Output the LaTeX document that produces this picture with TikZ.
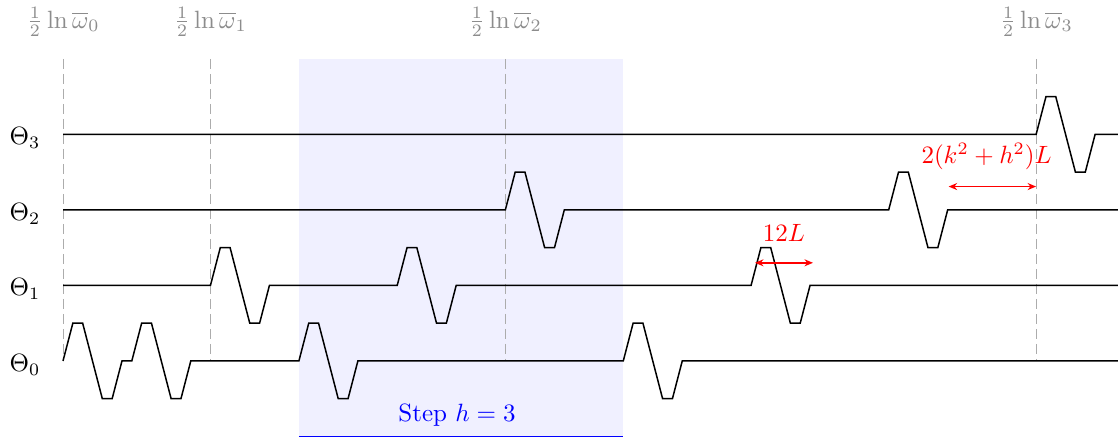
\documentclass[tikz,border=0pt]{standalone}
\usetikzlibrary{arrows.meta}
\begin{document}
\begin{tikzpicture}[x=3.932pt,y=30.2pt,
  wave/.style={black,line width=0.6pt,line join=miter},
  guide/.style={gray!65,line width=0.45pt,dash pattern=on 4pt off 2pt},
  toplabel/.style={text=gray!90,inner sep=1pt},
  thetalabel/.style={inner sep=1pt},
  measure/.style={red,line width=0.75pt,{Stealth[length=3.4pt,width=2.8pt]}-{Stealth[length=3.4pt,width=2.8pt]}},
  redlabel/.style={text=red,inner sep=1pt},
  steplabel/.style={text=blue,inner sep=1pt}]
\useasboundingbox (-6.41,-1.033) rectangle (107.33,4.781);
% step window
\fill[blue!6] (24,-1) rectangle (57,4);
\draw[blue,line width=0.6pt] (24,-1) coordinate (sL) -- (57,-1) coordinate (sR);
\node[steplabel] (step) at (40.08,-0.715) {Step $h=3$};
% guide lines
\foreach \xx/\ii in {0.03/0,15/1,45/2,99.03/3}{
  \coordinate (gt\ii) at (\xx,4);
  \coordinate (gb\ii) at (\xx,0);
  \draw[guide] (gt\ii) -- (gb\ii);
  \node[toplabel] (om\ii) at (\xx,4.49) {$\frac12\ln\overline{\omega}_\ii$};
}
% Theta labels
\foreach \ii in {0,1,2,3}{
  \node[thetalabel] (th\ii) at (-3.87,\ii-0.05) {$\Theta_\ii$};
}
% Theta_0
\draw[wave] (0,0) -- ++(1,.5) -- ++(1,0) -- ++(2,-1) -- ++(1,0) -- ++(1,.5)
  -- (7,0) -- ++(1,.5) -- ++(1,0) -- ++(2,-1) -- ++(1,0) -- ++(1,.5)
  -- (24,0) -- ++(1,.5) -- ++(1,0) -- ++(2,-1) -- ++(1,0) -- ++(1,.5)
  -- (57,0) -- ++(1,.5) -- ++(1,0) -- ++(2,-1) -- ++(1,0) -- ++(1,.5)
  -- (107.33,0);
% Theta_1
\draw[wave] (0,1)
  -- (15,1) -- ++(1,.5) -- ++(1,0) -- ++(2,-1) -- ++(1,0) -- ++(1,.5)
  -- (34,1) -- ++(1,.5) -- ++(1,0) -- ++(2,-1) -- ++(1,0) -- ++(1,.5)
  -- (70,1) -- ++(1,.5) -- ++(1,0) -- ++(2,-1) -- ++(1,0) -- ++(1,.5)
  -- (107.33,1);
% Theta_2
\draw[wave] (0,2)
  -- (45,2) -- ++(1,.5) -- ++(1,0) -- ++(2,-1) -- ++(1,0) -- ++(1,.5)
  -- (84,2) -- ++(1,.5) -- ++(1,0) -- ++(2,-1) -- ++(1,0) -- ++(1,.5)
  -- (107.33,2);
% Theta_3
\draw[wave] (0,3)
  -- (99,3) -- ++(1,.5) -- ++(1,0) -- ++(2,-1) -- ++(1,0) -- ++(1,.5)
  -- (107.33,3);
% measures
\coordinate (a1) at (70.4,1.3);
\coordinate (a2) at (76.3,1.3);
\draw[measure] (a1) -- (a2);
\node[redlabel] (l12) at (73.35,1.695) {$12L$};
\coordinate (b1) at (90.1,2.31);
\coordinate (b2) at (99,2.31);
\draw[measure] (b1) -- (b2);
\node[redlabel] (lkh) at (93.96,2.706) {$2(k^2+h^2)L$};
\end{tikzpicture}
\end{document}
